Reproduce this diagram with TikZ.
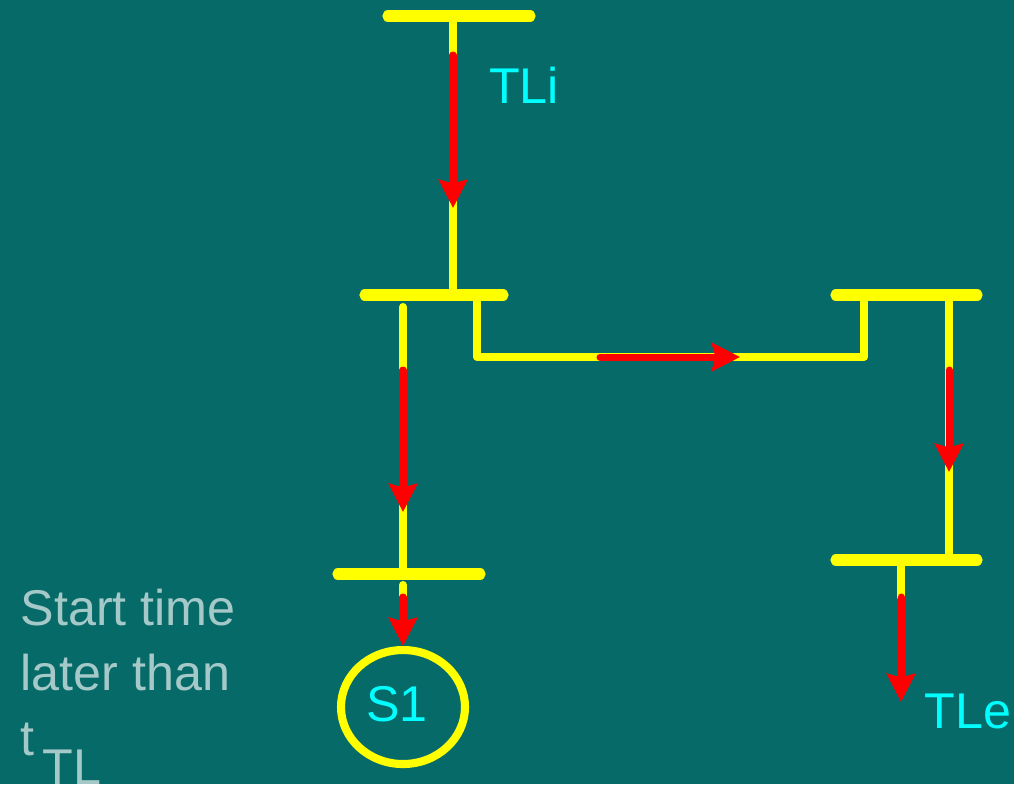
\documentclass[tikz,border=0pt]{standalone}
\usepackage{fontspec}
\setmainfont{Liberation Sans}
\usetikzlibrary{arrows.meta}
\usetikzlibrary{shapes.geometric}

\definecolor{bg}{RGB}{6,107,104}
\definecolor{busyellow}{RGB}{255,255,0}
\definecolor{flowred}{RGB}{255,0,0}
\definecolor{labelcyan}{RGB}{0,255,255}
\definecolor{notegray}{RGB}{165,200,200}

\tikzset{
    bus/.style={busyellow, line width=3.2pt, line cap=round},
    wire/.style={busyellow, line width=2.3pt, line cap=round, line join=round},
    flow/.style={flowred, line width=2pt, line cap=round, -{Stealth[length=8pt,width=8pt,inset=1pt]}},
    lbl/.style={labelcyan, font=\fontsize{14.3}{18}\selectfont, inner sep=0pt},
    note/.style={notegray, font=\fontsize{14.3}{18}\selectfont, inner sep=0pt, anchor=base west}
}

\begin{document}
\begin{tikzpicture}
    \fill[bg] (0,0) rectangle (10.14,-7.84);
    \useasboundingbox (0,0) rectangle (10.14,-7.84);

    % bus bars
    \coordinate (topL) at (3.88,-0.16);  \coordinate (topR) at (5.30,-0.16);
    \coordinate (midL) at (3.65,-2.95);  \coordinate (midR) at (5.03,-2.95);
    \coordinate (lowL) at (3.38,-5.74);  \coordinate (lowR) at (4.80,-5.74);
    \coordinate (rtL)  at (8.36,-2.95);  \coordinate (rtR)  at (9.77,-2.95);
    \coordinate (rbL)  at (8.36,-5.60);  \coordinate (rbR)  at (9.77,-5.60);
    \foreach \a/\b in {topL/topR, midL/midR, lowL/lowR, rtL/rtR, rbL/rbR}
        \draw[bus] (\a) -- (\b);

    % feeders
    \draw[wire] (4.53,-0.16) -- (4.53,-2.95);
    \draw[wire] (4.03,-3.07) -- (4.03,-5.74);
    \draw[wire] (4.77,-2.95) -- (4.77,-3.57) -- (8.64,-3.57) -- (8.64,-2.95);
    \draw[wire] (9.49,-2.95) -- (9.49,-5.60);
    \draw[wire] (9.01,-5.60) -- (9.01,-5.97);
    \draw[wire] (4.03,-5.85) -- (4.03,-5.97);

    % source
    \node[draw=busyellow, line width=2.3pt, ellipse, minimum width=1.24cm, minimum height=1.14cm,
          inner sep=0pt] (src) at (4.03,-7.07) {};
    \node[lbl] (s1) at (3.97,-7.04) {S1};

    % flows
    \draw[flow] (4.53,-0.55) -- (4.53,-2.08);
    \draw[flow] (4.03,-3.70) -- (4.03,-5.12);
    \draw[flow] (6.00,-3.57) -- (7.40,-3.57);
    \draw[flow] (9.49,-3.70) -- (9.49,-4.72);
    \draw[flow] (9.01,-5.97) -- (9.01,-7.02);
    \draw[flow] (4.03,-5.97) -- (src.north);

    % labels
    \node[lbl] (tli) at (5.24,-0.85) {TLi};
    \node[lbl] (tle) at (9.68,-7.11) {TLe};
    \node[note] (n1) at (0.20,-6.25) {Start time};
    \node[note] (n2) at (0.20,-6.90) {later than};
    \node[note] (n3) at (0.20,-7.55) {t};
    \node[note] (n4) at (0.42,-7.84) {TL};
\end{tikzpicture}
\end{document}
